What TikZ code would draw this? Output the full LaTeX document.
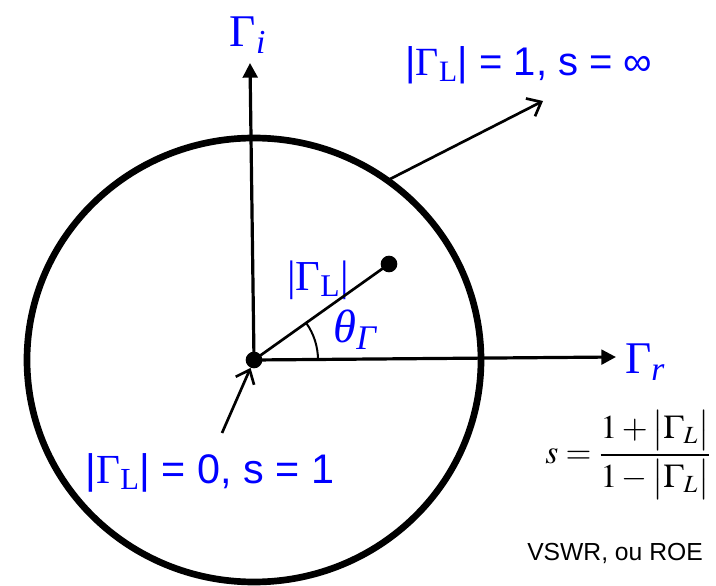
\documentclass[tikz,border=0pt]{standalone}
\usepackage{amsmath}
\usepackage{mathptmx}
\usepackage[no-math]{fontspec}
\setmainfont{Liberation Sans}
\newfontfamily\timesfont{Liberation Serif}
\usetikzlibrary{arrows.meta,calc}

\begin{document}
\begin{tikzpicture}[
    x=0.75pt, y=0.75pt,
    label/.style={text=blue, inner sep=0pt},
    axis/.style={line width=2.4pt, -{Triangle[length=11pt,width=11pt]}},
    pointer/.style={line width=2pt, -{Straight Barb[length=9pt,width=15pt]}},
    dot/.style={circle, fill, inner sep=0pt, minimum size=12.5pt}
]
    \useasboundingbox (0,0) rectangle (716,585);

    \node[dot] (origin) at (254,225) {};
    \node[dot] (gammaL) at (389,321) {};
    \draw[line width=5pt] (origin.center) ellipse (227 and 222);

    \node[label, font=\timesfont\fontsize{34}{40}\selectfont] (imag) at (248,550) {Γ\textsubscript{\itshape i}};
    \node[label, font=\timesfont\fontsize{34}{40}\selectfont] (real) at (645,223) {Γ\textsubscript{\itshape r}};
    \node[label, font=\timesfont\itshape\fontsize{35}{40}\selectfont] (theta) at (355,255) {θ\textsubscript{Γ}};
    \node[label, font=\timesfont\fontsize{32}{36}\selectfont] (modlabel) at (318,305) {|Γ\textsubscript{L}|};
    \node[label, font=\fontsize{30}{34}\selectfont] (unitlabel) at (529,520) {|{\timesfont Γ\textsubscript{L}}| = 1, s = ∞};
    \node[label, font=\fontsize{31}{36}\selectfont] (zerolabel) at (210,112) {|{\timesfont Γ\textsubscript{L}}| = 0, s = 1};
    \node[font=\fontsize{25}{30}\selectfont] (swr) at (628,130) {$s=\dfrac{1+\bigl|\Gamma_L\bigr|}{1-\bigl|\Gamma_L\bigr|}$};
    \node[font=\fontsize{18.5}{22}\selectfont] (vswr) at (615,32) {VSWR, ou ROE};

    % axes
    \coordinate (itip) at (250,522);
    \coordinate (rtip) at (616,228);
    \draw[axis] (origin.center) -- (itip);
    \draw[axis] (origin.center) -- (rtip);

    % reflection coefficient
    \draw[line width=2pt] (origin.center) -- (gammaL.center);
    \draw[line width=1.5pt] ($(origin.center)+(64,0)$) arc[start angle=0, end angle=35.4, radius=64];

    % pointers
    \coordinate (rim) at ($(origin.center)+(54:227 and 222)$);
    \coordinate (unittip) at (543,484);
    \coordinate (zerotail) at (222,152);
    \draw[pointer] (rim) -- (unittip);
    \draw[pointer] (zerotail) -- (origin);
\end{tikzpicture}
\end{document}
